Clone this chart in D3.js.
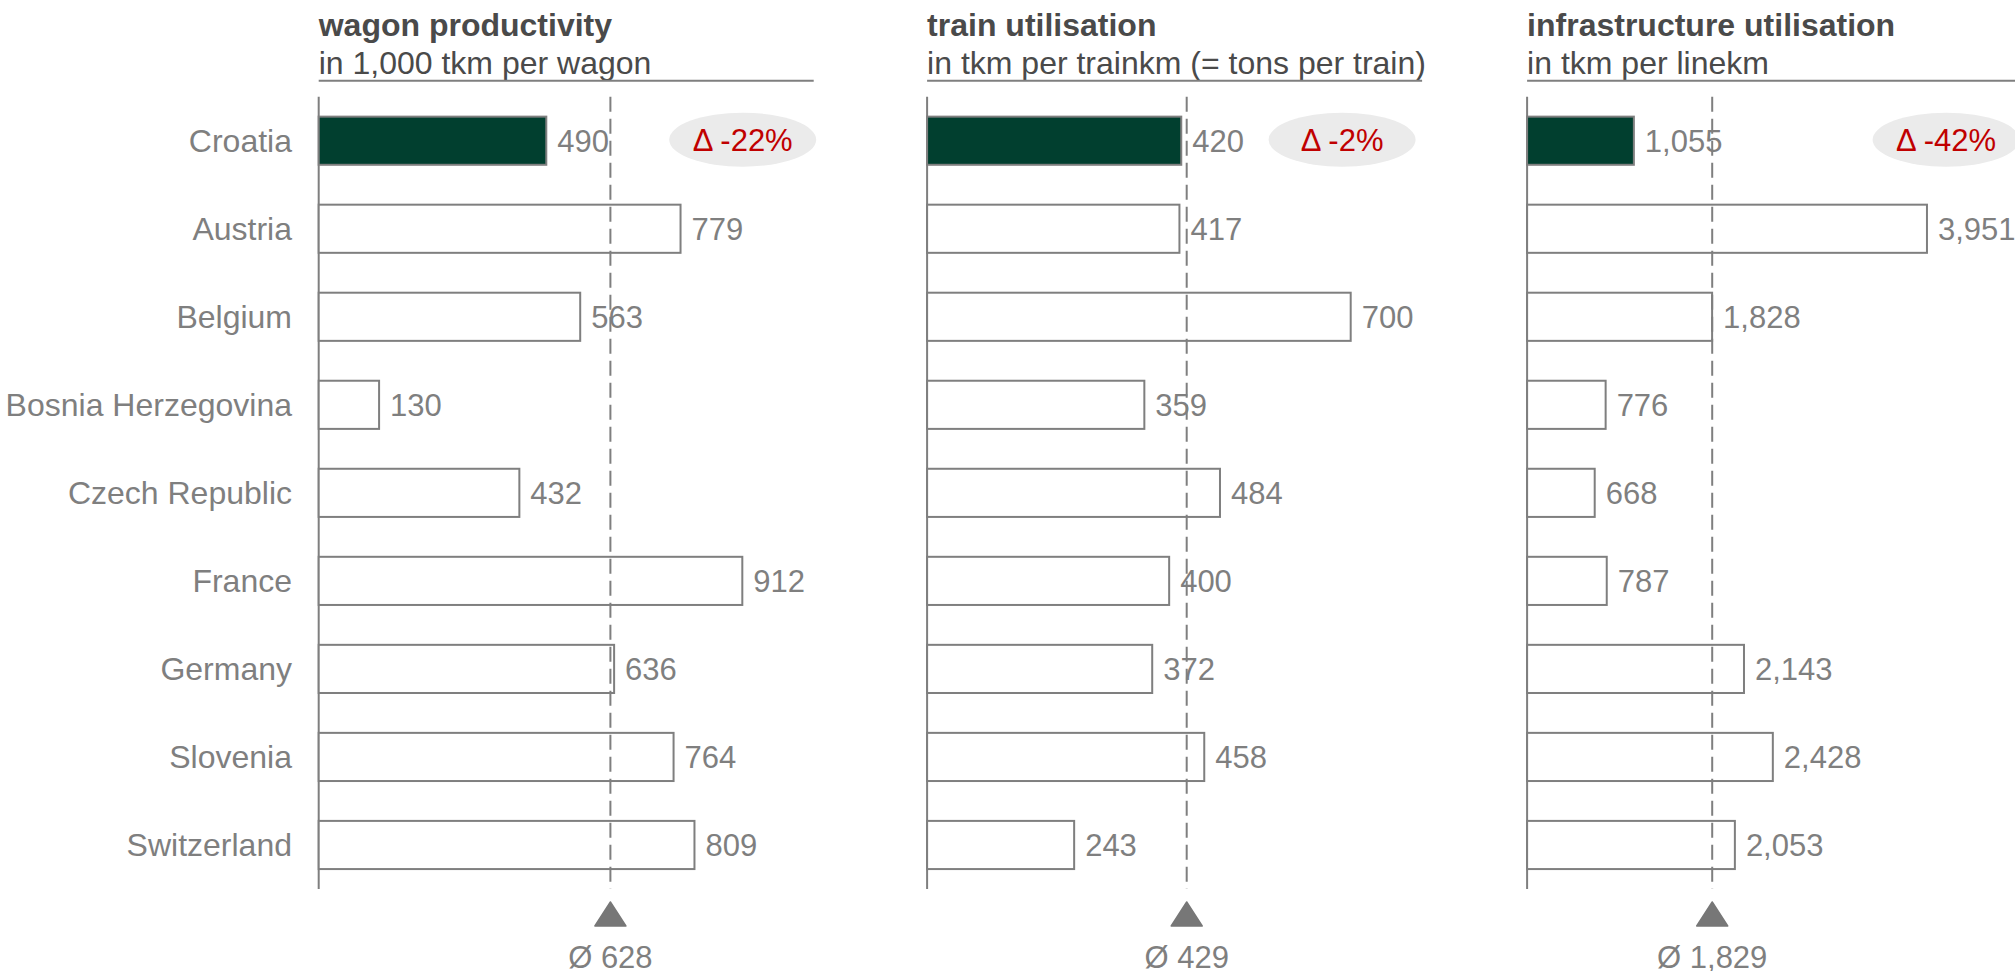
<!DOCTYPE html>
<html>
<head>
<meta charset="utf-8">
<script src="https://cdn.jsdelivr.net/npm/d3@7"></script>
<style>
  html, body { margin: 0; padding: 0; background: #ffffff; }
  svg { display: block; }
  text { font-family: "Liberation Sans", Arial, sans-serif; }
</style>
</head>
<body>
<svg id="chart" width="2015" height="971"></svg>
<script>
// ---- data ----
const categories = ["Croatia", "Austria", "Belgium", "Bosnia Herzegovina", "Czech Republic", "France", "Germany", "Slovenia", "Switzerland"];
const wagonProductivity = [490, 779, 563, 130, 432, 912, 636, 764, 809];
const trainUtilisation = [420, 417, 700, 359, 484, 400, 372, 458, 243];
const infraUtilisation = [1055, 3951, 1828, 776, 668, 787, 2143, 2428, 2053];
const averages = [628, 429, 1829];
const deltas = ["Δ -22%", "Δ -2%", "Δ -42%"];
const titles = ["wagon productivity", "train utilisation", "infrastructure utilisation"];
const subtitles = ["in 1,000 tkm per wagon", "in tkm per trainkm (= tons per train)", "in tkm per linekm"];
const highlight = "Croatia";

// ---- layout ----
const panelX = [318.7, 927.1, 1527.1];
const panelW = 495;
const domainMax = [1065.7, 818, 4891];
const pillOffset = [424, 415, 419];
const series = [wagonProductivity, trainUtilisation, infraUtilisation];

const grey = "#7f7f7f";
const dark = "#4a4a4a";
const green = "#013f2f";
const red = "#c00000";
const fsBig = 32;
const fs = 31;

const svg = d3.select("#chart");
const fmt = d3.format(",");

const y = d3.scaleBand()
  .domain(categories)
  .range([96.7, 889])
  .paddingInner(0.453)
  .paddingOuter(0.2265);

// category labels
svg.append("g").selectAll("text")
  .data(categories)
  .join("text")
  .attr("x", 292)
  .attr("y", d => y(d) + y.bandwidth() / 2 + 11)
  .attr("text-anchor", "end")
  .attr("fill", grey)
  .attr("font-size", fsBig)
  .text(d => d);

series.forEach((vals, i) => {
  const x0 = panelX[i];
  const x = d3.scaleLinear().domain([0, domainMax[i]]).range([x0, x0 + panelW]);
  const g = svg.append("g");

  // title & subtitle
  g.append("text")
    .attr("x", x0).attr("y", 36)
    .attr("fill", dark).attr("font-size", fsBig).attr("font-weight", "bold")
    .text(titles[i]);
  g.append("text")
    .attr("x", x0).attr("y", 74)
    .attr("fill", dark).attr("font-size", fsBig)
    .text(subtitles[i]);
  g.append("line")
    .attr("x1", x0).attr("x2", x0 + panelW)
    .attr("y1", 80.7).attr("y2", 80.7)
    .attr("stroke", grey).attr("stroke-width", 2);

  // axis line
  g.append("line")
    .attr("x1", x(0)).attr("x2", x(0))
    .attr("y1", 96.7).attr("y2", 889)
    .attr("stroke", grey).attr("stroke-width", 2);

  const rows = categories.map((c, k) => ({ c, v: vals[k] }));

  // bars
  g.selectAll("rect.bar")
    .data(rows)
    .join("rect")
    .attr("class", "bar")
    .attr("x", x(0))
    .attr("y", d => y(d.c))
    .attr("width", d => x(d.v) - x(0))
    .attr("height", y.bandwidth())
    .attr("fill", d => d.c === highlight ? green : "#ffffff")
    .attr("stroke", grey)
    .attr("stroke-width", 2);

  // average dashed line
  const ax = x(averages[i]);
  g.append("line")
    .attr("x1", ax).attr("x2", ax)
    .attr("y1", 96.7).attr("y2", 889)
    .attr("stroke", grey).attr("stroke-width", 2)
    .attr("stroke-dasharray", "15,7");

  // value labels
  g.selectAll("text.val")
    .data(rows)
    .join("text")
    .attr("class", "val")
    .attr("x", d => x(d.v) + 11)
    .attr("y", d => y(d.c) + y.bandwidth() / 2 + 11)
    .attr("fill", grey)
    .attr("font-size", fs)
    .text(d => fmt(d.v));

  // triangle marker
  g.append("path")
    .attr("d", `M${ax},${902} L${ax + 15.5},${926} L${ax - 15.5},${926} Z`)
    .attr("fill", "#777777")
    .attr("stroke", "#777777")
    .attr("stroke-width", 1.5)
    .attr("stroke-linejoin", "round");

  g.append("text")
    .attr("x", ax).attr("y", 968)
    .attr("text-anchor", "middle")
    .attr("fill", grey).attr("font-size", fs)
    .text("Ø " + fmt(averages[i]));

  // delta pill
  const cy = y(categories[0]) + y.bandwidth() / 2 - 1;
  const px = x0 + pillOffset[i];
  g.append("ellipse")
    .attr("cx", px).attr("cy", cy)
    .attr("rx", 73.5).attr("ry", 27)
    .attr("fill", "#ebebeb");
  g.append("text")
    .attr("x", px).attr("y", cy + 11)
    .attr("text-anchor", "middle")
    .attr("fill", red).attr("font-size", fs)
    .text(deltas[i]);
});
</script>
</body>
</html>
